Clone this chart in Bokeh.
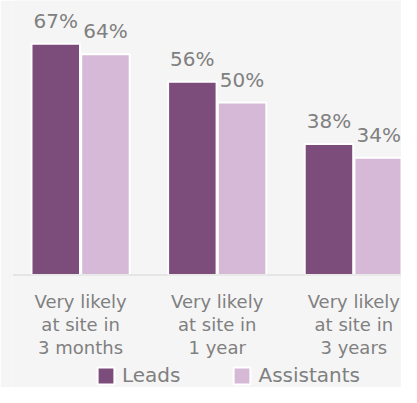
from bokeh.plotting import figure
from bokeh.models import ColumnDataSource, Legend, LegendItem, Range1d, Span
from bokeh.embed import file_html
from bokeh.resources import INLINE
from bokeh.core.properties import value

categories = ["Very likely\nat site in\n3 months", "Very likely\nat site in\n1 year", "Very likely\nat site in\n3 years"]
leads = [67, 56, 38]
assistants = [64, 50, 34]
series_names = ["Leads", "Assistants"]
colors = ["#7c4d7b", "#d6b9d6"]

FONT = "DejaVu Sans"
GRAY = "#808080"
BG = "#f5f5f5"

xs = list(range(len(categories)))
off = 0.182
w = 0.355

p = figure(width=401, height=387, output_backend="svg", toolbar_location=None,
           x_range=Range1d(-0.4985, 2.349), y_range=Range1d(-32.61, 79.57),
           min_border_left=12, min_border_right=0, min_border_top=0, min_border_bottom=0)
p.background_fill_color = BG
p.border_fill_color = BG
p.outline_line_color = None
p.grid.visible = False
p.xaxis.visible = False
p.yaxis.visible = False

src_l = ColumnDataSource(dict(x=[x - off for x in xs], top=leads, lab=[f"{v}%" for v in leads]))
src_a = ColumnDataSource(dict(x=[x + off for x in xs], top=assistants, lab=[f"{v}%" for v in assistants]))
src_c = ColumnDataSource(dict(x=xs, y=[0] * len(xs), lab=categories))

r1 = p.vbar(x="x", top="top", width=w, bottom=0, source=src_l, fill_color=colors[0], line_color="white", line_width=2)
r2 = p.vbar(x="x", top="top", width=w, bottom=0, source=src_a, fill_color=colors[1], line_color="white", line_width=2)

p.add_layout(Span(location=0, dimension="width", line_color="#d4d4d4", line_width=1))

for s in (src_l, src_a):
    p.text(x="x", y="top", text="lab", source=s, text_align="center", text_baseline="alphabetic",
           y_offset=-23, text_font=value(FONT), text_font_size="20px", text_color=GRAY)

p.text(x="x", y="y", text="lab", source=src_c, text_align="center", text_baseline="top",
       y_offset=16, text_font=value(FONT), text_font_size="18px", text_color=GRAY,
       text_line_height=1.1)

legend = Legend(items=[LegendItem(label=series_names[0], renderers=[r1]),
                       LegendItem(label=series_names[1], renderers=[r2])],
                orientation="horizontal", location=(83, 0),
                label_text_font=FONT, label_text_font_size="20px", label_text_color=GRAY,
                glyph_width=21, glyph_height=21, spacing=51, label_standoff=6,
                background_fill_alpha=0, border_line_color=None, margin=0, padding=0)
p.add_layout(legend)

open("out.html", "w").write(file_html(p, INLINE))
